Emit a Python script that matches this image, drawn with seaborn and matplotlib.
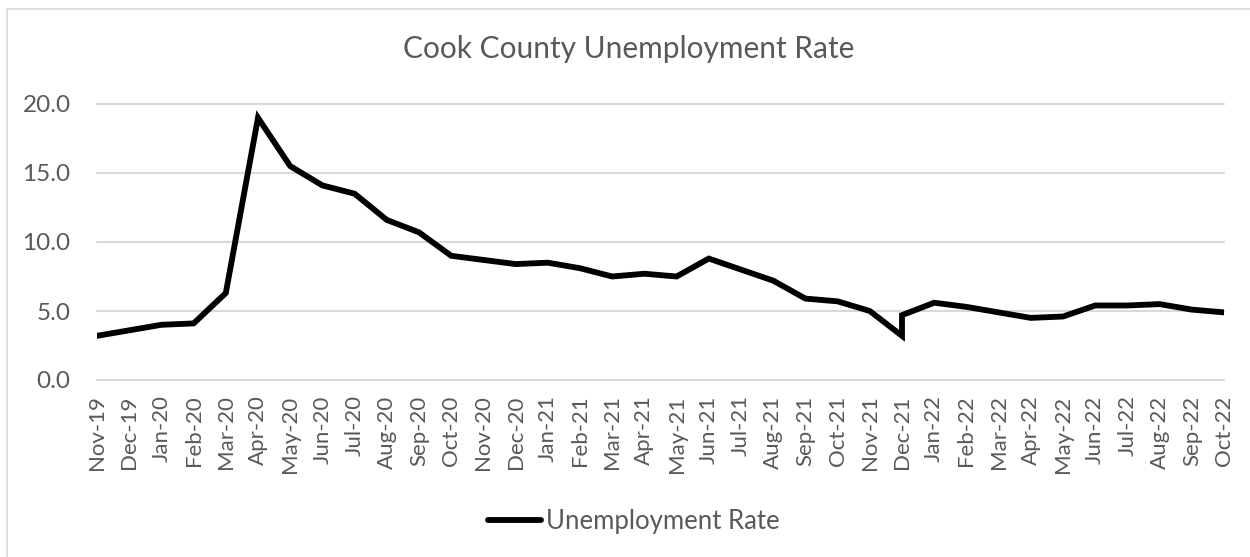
import matplotlib
matplotlib.use("Agg")
import matplotlib.pyplot as plt
import matplotlib.patches as mpatches
import seaborn as sns
import pandas as pd

months = ["Nov-19", "Dec-19", "Jan-20", "Feb-20", "Mar-20", "Apr-20", "May-20", "Jun-20",
          "Jul-20", "Aug-20", "Sep-20", "Oct-20", "Nov-20", "Dec-20", "Jan-21", "Feb-21",
          "Mar-21", "Apr-21", "May-21", "Jun-21", "Jul-21", "Aug-21", "Sep-21", "Oct-21",
          "Nov-21", "Dec-21", "Dec-21", "Jan-22", "Feb-22", "Mar-22", "Apr-22", "May-22",
          "Jun-22", "Jul-22", "Aug-22", "Sep-22", "Oct-22"]
rates = [3.2, 3.6, 4.0, 4.1, 6.3, 19.0, 15.5, 14.1,
         13.5, 11.6, 10.7, 9.0, 8.7, 8.4, 8.5, 8.1,
         7.5, 7.7, 7.5, 8.8, 8.0, 7.2, 5.9, 5.7,
         5.0, 3.2, 4.7, 5.6, 5.3, 4.9, 4.5, 4.6,
         5.4, 5.4, 5.5, 5.1, 4.9]
series_name = "Unemployment Rate"
title = "Cook County Unemployment Rate"
yticks = [0, 5, 10, 15, 20]

df = pd.DataFrame({"Month": months, "Rate": rates})

sns.set_theme(style="white")
plt.rcParams["font.family"] = ["Lato", "DejaVu Sans"]
txt = "#595959"
grid = "#d9d9d9"

W, H = 1250, 557
fig = plt.figure(figsize=(12.5, 5.57), dpi=100)
fig.patch.set_facecolor("white")
ax = fig.add_axes([97 / W, 1 - 380 / H, (1224 - 97) / W, (380 - 104) / H])

sns.lineplot(data=df, x="Month", y="Rate", sort=False, estimator=None,
             color="black", linewidth=4.2, ax=ax, label=series_name,
             solid_joinstyle="miter", solid_capstyle="round")

ax.set_xlim(0, 35)
ax.set_ylim(0, 20)
ax.set_yticks(yticks)
ax.set_yticklabels([f"{v:.1f}" for v in yticks])
ax.set_xlabel("")
ax.set_ylabel("")
for s in ax.spines.values():
    s.set_visible(False)
ax.grid(axis="y", color=grid, linewidth=1.5)
ax.grid(axis="x", visible=False)
for gl in ax.get_ygridlines():
    gl.set_clip_on(False)
ax.set_axisbelow(True)
ax.tick_params(axis="y", length=0, pad=19, labelsize=17.5, labelcolor=txt)
ax.tick_params(axis="x", length=0, pad=11, labelsize=16, labelcolor=txt, labelrotation=90)

leg = ax.get_legend()
if leg is not None:
    leg.remove()
handles, labels = ax.get_legend_handles_labels()
fig.legend(handles, labels, loc="center", bbox_to_anchor=(634 / W, 1 - 521 / H),
           frameon=False, fontsize=18.5, labelcolor=txt, handlelength=2.05,
           handletextpad=0.2)

fig.text(629 / W, 1 - 49 / H, title, ha="center", va="center", fontsize=21.5, color=txt)

rect = mpatches.Rectangle((7 / W, -0.1), 2, 1 - 9 / H + 0.1, transform=fig.transFigure,
                          fill=False, edgecolor=grid, linewidth=1.2, clip_on=False)
fig.patches.append(rect)

fig.savefig("out.png", dpi=100, facecolor="white")
